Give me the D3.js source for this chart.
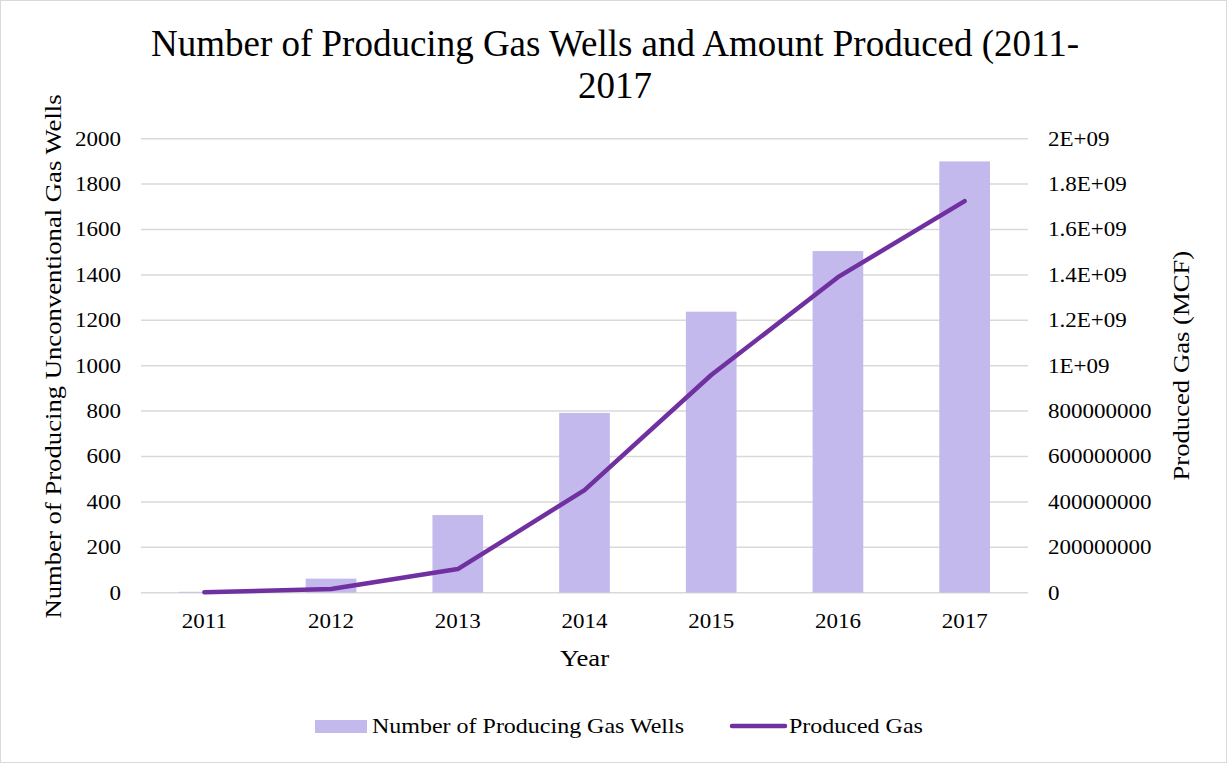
<!DOCTYPE html>
<html>
<head>
<meta charset="utf-8">
<script src="https://cdn.jsdelivr.net/npm/d3@7"></script>
<style>
  html, body { margin: 0; padding: 0; background: #fff; }
  svg { display: block; font-family: "Liberation Serif", "Times New Roman", serif; }
</style>
</head>
<body>
<svg id="chart" width="1227" height="763"></svg>
<script>
// Producing unconventional gas wells and produced gas, 2011–2017
const years = ["2011", "2012", "2013", "2014", "2015", "2016", "2017"];
const wellCounts = [4, 62, 342, 792, 1238, 1505, 1900];
const producedGas = [2e6, 1.6e7, 1.04e8, 4.52e8, 9.59e8, 1.39e9, 1.725e9];
const leftTicks = [0, 200, 400, 600, 800, 1000, 1200, 1400, 1600, 1800, 2000];
const rightTicks = [0, 2e8, 4e8, 6e8, 8e8, 1e9, 1.2e9, 1.4e9, 1.6e9, 1.8e9, 2e9];
const rightTickLabels = ["0", "200000000", "400000000", "600000000", "800000000",
  "1E+09", "1.2E+09", "1.4E+09", "1.6E+09", "1.8E+09", "2E+09"];

const W = 1227, H = 763;
const plot = { left: 141, right: 1028, top: 138.7, bottom: 592.7 };

const svg = d3.select("#chart");

// widen serif text slightly so it sets as wide as the spreadsheet font
function widen(sel, k) {
  sel.each(function () {
    const len = this.getComputedTextLength();
    d3.select(this).attr("textLength", len * k).attr("lengthAdjust", "spacingAndGlyphs");
  });
}

svg.append("rect")
  .attr("x", 0.5).attr("y", 0.5).attr("width", W - 1).attr("height", H - 1)
  .attr("fill", "#fff").attr("stroke", "#d9d9d9");

const x = d3.scaleBand().domain(years).range([plot.left, plot.right]).paddingInner(0.6).paddingOuter(0.3);
const yL = d3.scaleLinear().domain([0, 2000]).range([plot.bottom, plot.top]);
const yR = d3.scaleLinear().domain([0, 2e9]).range([plot.bottom, plot.top]);

// gridlines
svg.append("g")
  .selectAll("line")
  .data(leftTicks)
  .join("line")
  .attr("x1", plot.left).attr("x2", plot.right)
  .attr("y1", d => yL(d)).attr("y2", d => yL(d))
  .attr("stroke", "#d9d9d9").attr("stroke-width", 1.5);

// bars
svg.append("g")
  .selectAll("rect")
  .data(years)
  .join("rect")
  .attr("x", d => x(d))
  .attr("width", x.bandwidth())
  .attr("y", (d, i) => yL(wellCounts[i]))
  .attr("height", (d, i) => yL(0) - yL(wellCounts[i]))
  .attr("fill", "#c3b9ec");

// produced gas line
const line = d3.line()
  .x((d, i) => x(years[i]) + x.bandwidth() / 2)
  .y(d => yR(d));
svg.append("path")
  .datum(producedGas)
  .attr("d", line)
  .attr("fill", "none")
  .attr("stroke", "#7030a0")
  .attr("stroke-width", 4.5)
  .attr("stroke-linecap", "round")
  .attr("stroke-linejoin", "round");

// left axis
const leftAxis = d3.axisLeft(yL).tickValues(leftTicks).tickSize(0).tickPadding(0).tickFormat(d3.format("d"));
const gL = svg.append("g").attr("transform", "translate(121,0)").call(leftAxis);
gL.select(".domain").remove();
gL.selectAll("text").attr("font-size", 20).attr("fill", "#000").attr("font-family", "Liberation Serif");
widen(gL.selectAll("text"), 1.15);

// right axis
const rightAxis = d3.axisRight(yR).tickValues(rightTicks).tickSize(0).tickPadding(0)
  .tickFormat((d, i) => rightTickLabels[i]);
const gR = svg.append("g").attr("transform", "translate(1048,0)").call(rightAxis);
gR.select(".domain").remove();
gR.selectAll("text").attr("font-size", 20).attr("fill", "#000").attr("font-family", "Liberation Serif");
widen(gR.selectAll("text"), 1.15);

// bottom axis
const bottomAxis = d3.axisBottom(x).tickSize(0).tickPadding(0);
const gB = svg.append("g").attr("transform", "translate(0,614)").call(bottomAxis);
gB.select(".domain").remove();
gB.selectAll("text").attr("font-size", 20).attr("fill", "#000").attr("font-family", "Liberation Serif");
widen(gB.selectAll("text"), 1.15);

// chart title
const title = svg.append("text")
  .attr("text-anchor", "middle").attr("font-size", 37).attr("fill", "#000");
title.append("tspan").attr("x", 615).attr("y", 56).text("Number of Producing Gas Wells and Amount Produced (2011-");
title.append("tspan").attr("x", 615).attr("y", 98).text("2017");

// axis titles
const yTitleL = svg.append("text")
  .attr("transform", "translate(61,356.5) rotate(-90)")
  .attr("text-anchor", "middle").attr("font-size", 23).attr("fill", "#000")
  .text("Number of Producing Unconventional Gas Wells");
widen(yTitleL, 1.16);

const yTitleR = svg.append("text")
  .attr("transform", `translate(1189,${(plot.top + plot.bottom) / 2}) rotate(-90)`)
  .attr("text-anchor", "middle").attr("font-size", 23).attr("fill", "#000")
  .text("Produced Gas (MCF)");
widen(yTitleR, 1.16);

const xTitle = svg.append("text")
  .attr("x", (plot.left + plot.right) / 2).attr("y", 666)
  .attr("text-anchor", "middle").attr("font-size", 23).attr("fill", "#000")
  .text("Year");
widen(xTitle, 1.16);

// legend
const legend = svg.append("g");
legend.append("rect").attr("x", 315).attr("y", 720).attr("width", 52).attr("height", 13).attr("fill", "#c3b9ec");
const lt1 = legend.append("text").attr("x", 372).attr("y", 733).attr("font-size", 22).attr("fill", "#000")
  .text("Number of Producing Gas Wells");
legend.append("line").attr("x1", 732).attr("x2", 785).attr("y1", 726).attr("y2", 726)
  .attr("stroke", "#7030a0").attr("stroke-width", 4.5).attr("stroke-linecap", "round");
const lt2 = legend.append("text").attr("x", 789).attr("y", 733).attr("font-size", 22).attr("fill", "#000")
  .text("Produced Gas");
widen(lt1, 1.09);
widen(lt2, 1.09);
</script>
</body>
</html>
